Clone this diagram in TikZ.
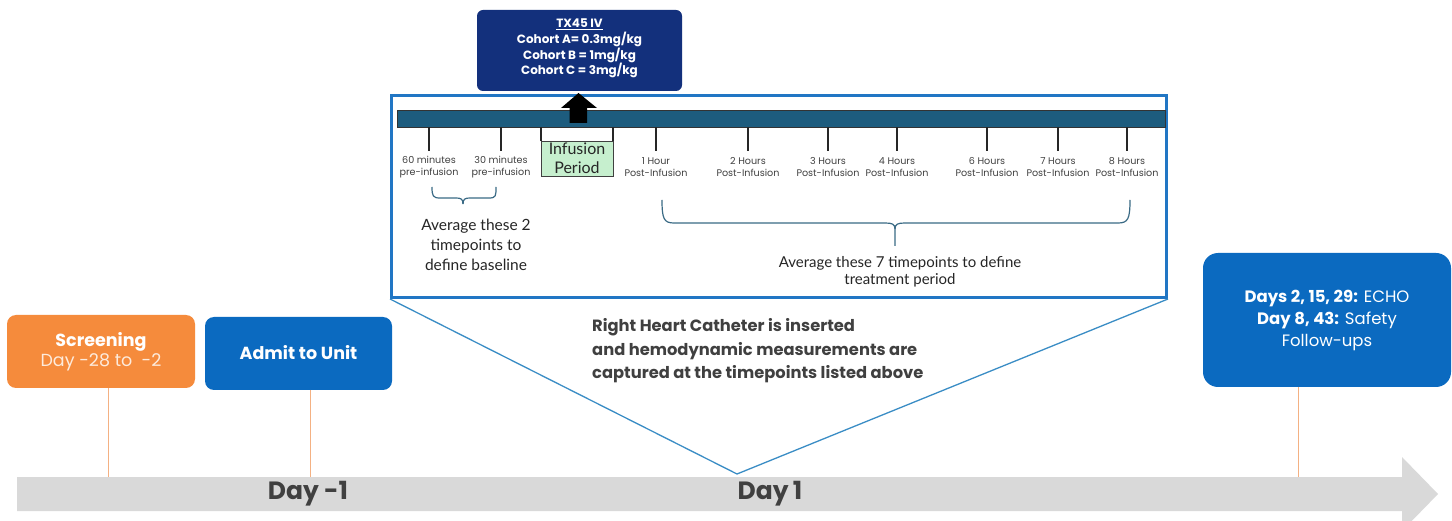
\documentclass[tikz,border=0pt]{standalone}
\usepackage{fontspec}
\setmainfont{Poppins}
\newfontfamily\lato{Lato}
\usetikzlibrary{arrows.meta}
\definecolor{orng}{HTML}{F58B3C}
\definecolor{ablue}{HTML}{0B6AC0}
\definecolor{navyb}{HTML}{13307C}
\definecolor{barcol}{HTML}{1D5C7E}
\definecolor{framec}{HTML}{2176C4}
\definecolor{vlinec}{HTML}{3A8DC5}
\definecolor{agray}{HTML}{D9D9D9}
\definecolor{txt}{HTML}{404040}
\definecolor{infg}{HTML}{C6EFCE}
\definecolor{olinec}{HTML}{F4B183}
\definecolor{bracec}{HTML}{3A6A85}
\definecolor{lightw}{HTML}{FDEBDC}
\tikzset{
  tickline/.style={line width=1.5pt, draw=black!85},
  tickl/.style={font=\fontsize{9.6}{12.5}\selectfont, text=txt, align=center, inner sep=0},
  bracel/.style={line width=1.2pt, draw=bracec},
  olink/.style={line width=1pt, draw=olinec},
  vlink/.style={line width=1.3pt, draw=vlinec},
  boxnode/.style={rounded corners=8pt, text=white, align=center, inner sep=0}
}
\begin{document}
\begin{tikzpicture}[x=1pt,y=-1pt]
\useasboundingbox (0,0) rectangle (1452,521);
\clip (0,0) rectangle (1452,521);
\fill[white] (0,0) rectangle (1452,521);
% big gray arrow
\fill[agray] (17,477) -- (1402,477) -- (1402,457) -- (1438,494) -- (1402,531) -- (1402,511) -- (17,511) -- cycle;
\node[font=\fontsize{25}{28}\selectfont\bfseries, text=txt] (dm1) at (308,494) {Day -1};
\node[font=\fontsize{25}{28}\selectfont\bfseries, text=txt] (d1) at (770,494) {Day\,1};
% bottom boxes
\fill[orng, rounded corners=9pt] (7,315) rectangle (195,388);
\node[boxnode, font=\fontsize{17.5}{21}\selectfont] (scr) at (101,352) {{\bfseries Screening}\\[-1pt]\textcolor{lightw}{Day -28 to\ \ -2}};
\fill[ablue, rounded corners=9pt] (205,317) rectangle (392,390);
\node[boxnode, font=\fontsize{17.5}{21}\selectfont\bfseries] (adm) at (298.5,353) {Admit to Unit};
\fill[ablue, rounded corners=15pt] (1203,253) rectangle (1451,387);
\node[boxnode, font=\fontsize{16.5}{22}\selectfont] (fol) at (1327,320) {{\bfseries Days 2, 15, 29:} ECHO\\{\bfseries Day 8, 43:} Safety\\Follow-ups};
% orange links
\coordinate (s1) at (108,477);
\coordinate (s2) at (310,477);
\coordinate (s3) at (1298,477);
\coordinate (s1t) at (108,388);
\coordinate (s2t) at (310,390);
\coordinate (s3t) at (1298,387);
\draw[olink] (s1t) -- (s1);
\draw[olink] (s2t) -- (s2);
\draw[olink] (s3t) -- (s3);
% frame
\node[draw=framec, line width=3pt, minimum width=775, minimum height=202, inner sep=0] (frame) at (779,196.5) {};
\coordinate (apex) at (737,474);
\draw[vlink] (frame.south west) -- (apex) -- (frame.south east);
% timeline bar
\draw[fill=barcol, draw=black!80, line width=0.8pt] (397,110) rectangle (1165,127);
% top box
\node[fill=navyb, rounded corners=6pt, minimum width=205, minimum height=81, inner sep=0] (tx) at (579.5,50.5) {};
\node[font=\fontsize{12}{15.7}\selectfont\bfseries, text=white, align=center, inner sep=0] (txt) at (579.5,48.5) {\underline{TX45 IV}\\Cohort A= 0.3mg/kg\\Cohort B = 1mg/kg\\Cohort C = 3mg/kg};
% black up arrow
\fill[black] (569.5,123) -- (587,123) -- (587,108) -- (597,108) -- (578.5,93) -- (561,108) -- (569.5,108) -- cycle;
% infusion box
\draw[tickline, line width=1.2pt] (541,127) -- (541,141);
\draw[tickline, line width=1.2pt] (613,127) -- (613,141);
\node[fill=infg, draw=black!75, line width=1pt, minimum width=72, minimum height=35, inner sep=0, anchor=north west] (inf) at (541,141) {};
\node[font=\lato\fontsize{16}{19}\selectfont, text=black!85, align=center, inner sep=0] (inft) at (577,158.5) {Infusion\\Period};
% ticks and labels
\foreach \x/\n/\a/\b in {429/t1/60 minutes/pre-infusion, 501/t2/30 minutes/pre-infusion, 656/t3/1 Hour/Post-Infusion, 748/t4/2 Hours/Post-Infusion, 828/t5/3 Hours/Post-Infusion, 897/t6/4 Hours/Post-Infusion, 987/t7/6 Hours/Post-Infusion, 1058/t8/7 Hours/Post-Infusion, 1127/t9/8 Hours/Post-Infusion}{
  \draw[tickline] (\x,127) -- (\x,151);
  \node[tickl] (\n) at (\x,167) {\a\\\b};
}
% small brace
\draw[bracel] (432,187) .. controls (432,196) and (433,198) .. (440,198) -- (456,198) .. controls (461,198) and (463,199) .. (463,204);
\draw[bracel] (463,204) .. controls (463,199) and (465,198) .. (470,198) -- (489,198) .. controls (496,198) and (496,196) .. (496,187);
\node[font=\lato\fontsize{15.5}{20}\selectfont, text=black!85, align=center, inner sep=0] (avg2) at (476,245) {Average these 2\\timepoints to\\define baseline};
% big brace
\draw[bracel] (662,200) .. controls (662,219) and (664,223) .. (674,223) -- (885,223) .. controls (892,223) and (895,224) .. (895,229) -- (895,246);
\draw[bracel] (895,229) .. controls (895,224) and (898,223) .. (905,223) -- (1118,223) .. controls (1128,223) and (1130,219) .. (1130,200);
\node[font=\lato\fontsize{15}{17.5}\selectfont, text=black!85, align=center, inner sep=0] (avg7) at (900,272) {Average these 7 timepoints to define\\treatment period};
% RHC text
\node[font=\fontsize{16.3}{23.5}\selectfont\bfseries, text=txt, align=left, inner sep=0, anchor=west] (rhc) at (592,351) {Right Heart Catheter is inserted\\and hemodynamic measurements are\\captured at the timepoints listed above};
\end{tikzpicture}
\end{document}
